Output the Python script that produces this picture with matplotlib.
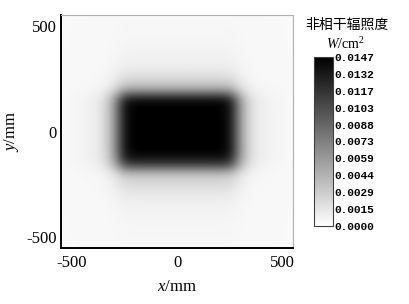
import numpy as np
import matplotlib
matplotlib.use("Agg")
import matplotlib.pyplot as plt

# ── Data ──────────────────────────────────────────────────────────────────────
# sample positions (mm) and normalised irradiance profiles through the spot
pos_mm    = [-550, -500, -450, -400, -350, -300, -250, -200, -150, -100, -50, 0,
             50, 100, 150, 200, 250, 300, 350, 400, 450, 500, 550]
x_profile = [0.0, 0.01, 0.02, 0.04, 0.09, 0.35, 0.93, 1.0, 1.0, 1.0, 1.0, 1.0,
             1.0, 1.0, 1.0, 1.0, 0.93, 0.35, 0.09, 0.04, 0.02, 0.01, 0.0]
y_profile = [0.0, 0.01, 0.01, 0.02, 0.03, 0.06, 0.12, 0.2, 0.82, 1.0, 1.0, 1.0,
             1.0, 1.0, 0.98, 0.3, 0.12, 0.05, 0.03, 0.02, 0.01, 0.01, 0.0]
peak_w_cm2 = 0.01468
background_w_cm2 = 0.0004

cbar_ticks  = [0.0, 0.00147, 0.00294, 0.0044, 0.00587, 0.00734, 0.0088,
               0.01028, 0.01174, 0.01321, 0.01468]
cbar_labels = ['0.0000', '0.0015', '0.0029', '0.0044', '0.0059', '0.0073',
               '0.0088', '0.0103', '0.0117', '0.0132', '0.0147']
axis_ticks  = [-500, 0, 500]

field = background_w_cm2 + (peak_w_cm2 - background_w_cm2) * np.outer(y_profile, x_profile)

# ── Figure ────────────────────────────────────────────────────────────────────
plt.rcParams['mathtext.fontset'] = 'custom'
plt.rcParams['mathtext.rm'] = 'Liberation Serif'
plt.rcParams['mathtext.it'] = 'Liberation Serif:italic'

serif = ['Liberation Serif', 'DejaVu Serif']
fig = plt.figure(figsize=(4.10, 3.04), dpi=100)
ax = fig.add_axes([0.149, 0.184, 0.566, 0.766])

im = ax.imshow(field, origin='lower', cmap='gray_r', vmin=0, vmax=peak_w_cm2,
               extent=(-575, 575, -575, 575), interpolation='bicubic', aspect='auto')
ax.set_xlim(-550, 550)
ax.set_ylim(-550, 550)
ax.set_xticks(axis_ticks)
ax.set_yticks(axis_ticks)
ax.set_xticklabels([str(t) for t in axis_ticks], family=serif, fontsize=12)
ax.set_yticklabels([str(t) for t in axis_ticks], family=serif, fontsize=12)
ax.tick_params(axis='x', length=2, direction='in', color='white', pad=5)
ax.tick_params(axis='y', length=2, direction='in', color='white', pad=3)

for side in ('left', 'bottom'):
    ax.spines[side].set_linewidth(1.4)
    ax.spines[side].set_color('black')
for side in ('top', 'right'):
    ax.spines[side].set_linewidth(0.8)
    ax.spines[side].set_color('#b0b0b0')

ax.set_xlabel(r'$\it{x}$/mm', family=serif, fontsize=12, labelpad=6)
ax.set_ylabel(r'$\it{y}$/mm', family=serif, fontsize=12, labelpad=4)

# ── Colorbar ──────────────────────────────────────────────────────────────────
cax = fig.add_axes([0.766, 0.257, 0.046, 0.556])
cb = fig.colorbar(im, cax=cax, ticks=cbar_ticks)
cb.ax.set_yticklabels(cbar_labels, family='Liberation Mono', fontsize=8,
                      fontweight='bold')
cb.ax.tick_params(length=0, pad=1)
cb.outline.set_linewidth(0.8)
cb.outline.set_edgecolor('#404040')

fig.text(0.846, 0.918, '非相干辐照度', family=['Noto Sans CJK SC', 'DejaVu Sans'],
         fontsize=10, ha='center', va='center')
fig.text(0.842, 0.855, r'$\it{W}$/cm$^2$', family=serif, fontsize=10,
         ha='center', va='center')

fig.savefig('out.png', dpi=100)
